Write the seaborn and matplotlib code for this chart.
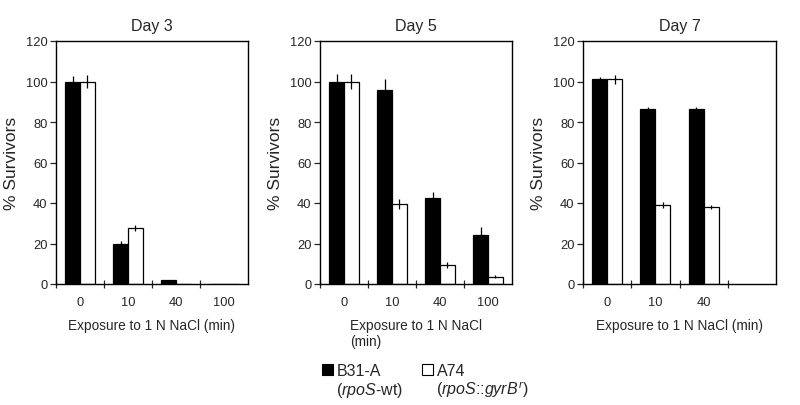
import numpy as np
import pandas as pd
import matplotlib
matplotlib.use("Agg")
import matplotlib.pyplot as plt
from matplotlib.patches import Rectangle
import seaborn as sns

# ---- data ----
categories = ["0", "10", "40", "100"]
strains = ["B31-A", "A74"]
days = ["Day 3", "Day 5", "Day 7"]

day3_b31 = [100, 20, 2, 0]
day3_a74 = [100, 27.5, 0, 0]
day3_b31_err = [2.5, 1.0, 0, 0]
day3_a74_err = [3.0, 1.5, 0, 0]

day5_b31 = [100, 96, 42.5, 24]
day5_a74 = [100, 39.5, 9.3, 3.6]
day5_b31_err = [3.6, 5.4, 3.0, 4.0]
day5_a74_err = [3.5, 2.7, 1.5, 0.8]

day7_b31 = [101, 86.5, 86.5]
day7_a74 = [101, 39, 38]
day7_b31_err = [1.0, 0.8, 0.8]
day7_a74_err = [2.0, 1.3, 1.0]

day7_ticklabels = ["0", "10", "40", ""]

panels = [
    (day3_b31, day3_a74, day3_b31_err, day3_a74_err, categories, "Exposure to 1 N NaCl (min)"),
    (day5_b31, day5_a74, day5_b31_err, day5_a74_err, categories, "Exposure to 1 N NaCl\n(min)"),
    (day7_b31, day7_a74, day7_b31_err, day7_a74_err, day7_ticklabels, "Exposure to 1 N NaCl (min)"),
]

sns.set_style("ticks")
plt.rcParams["font.family"] = ["Liberation Sans", "DejaVu Sans"]
plt.rcParams["mathtext.fontset"] = "custom"
plt.rcParams["mathtext.rm"] = "Liberation Sans"
plt.rcParams["mathtext.it"] = "Liberation Sans:italic"

fig = plt.figure(figsize=(8, 4.06), dpi=100)
W, H = 800, 406
axes_px = [(56, 248), (320, 512), (583, 776)]
top_px, bot_px = 42, 285

for (b, a, be, ae, ticklabels, xlabel), (x0, x1), title in zip(panels, axes_px, days):
    ax = fig.add_axes([x0 / W, 1 - bot_px / H, (x1 - x0) / W, (bot_px - top_px) / H])
    n = len(b)
    df = pd.DataFrame({
        "exposure": categories[:n] * 2,
        "strain": [strains[0]] * n + [strains[1]] * n,
        "survivors": list(b) + list(a),
    })
    errs = {strains[0]: be, strains[1]: ae}
    sns.barplot(data=df, x="exposure", y="survivors", hue="strain",
                order=categories, hue_order=strains,
                palette={"B31-A": "black", "A74": "white"},
                edgecolor="black", linewidth=0.9, width=0.62,
                errorbar=None, legend=False, ax=ax)
    for cont, s in zip(ax.containers, strains):
        for bar in cont:
            h = bar.get_height()
            if np.isnan(h):
                continue
            xc = bar.get_x() + bar.get_width() / 2
            idx = int(round(xc))
            e = errs[s][idx]
            if e > 0:
                ax.errorbar(xc, h, yerr=e, fmt="none", ecolor="black",
                            elinewidth=0.9, capsize=0, zorder=5)
    ax.set_xlim(-0.5, 3.5)
    ax.set_ylim(0, 120)
    ax.set_yticks(range(0, 121, 20))
    ax.set_xticks(range(4))
    ax.set_xticklabels(ticklabels)
    ax.set_xticks([-0.5, 0.5, 1.5, 2.5], minor=True)
    ax.tick_params(axis="x", which="major", length=0, labelsize=9.3, pad=9)
    ax.tick_params(axis="x", which="minor", length=6, width=0.9, direction="inout")
    ax.tick_params(axis="y", length=4, width=0.9, direction="out", labelsize=9.3, pad=2)
    for sp in ax.spines.values():
        sp.set_visible(True)
        sp.set_linewidth(1.0)
        sp.set_color("black")
    ax.set_title(title, fontsize=11.5, pad=8)
    ax.set_ylabel("% Survivors", fontsize=12.5, labelpad=5)
    ax.set_xlabel(xlabel, fontsize=9.8, labelpad=7, multialignment="left")

# ---- legend ----
fig.patches.append(Rectangle((322 / W, 1 - 376 / H), 11 / W, 11 / H, transform=fig.transFigure,
                             facecolor="black", edgecolor="black", linewidth=0.8))
fig.patches.append(Rectangle((422 / W, 1 - 376 / H), 11 / W, 11 / H, transform=fig.transFigure,
                             facecolor="white", edgecolor="black", linewidth=0.8))
fig.text(337 / W, 1 - 376 / H, "B31-A", fontsize=11.5, va="baseline")
fig.text(336 / W, 1 - 395 / H, r"($\mathit{rpoS}$-wt)", fontsize=11.5, va="baseline")
fig.text(437 / W, 1 - 376 / H, "A74", fontsize=11.5, va="baseline")
fig.text(436 / W, 1 - 395 / H, r"($\mathit{rpoS}$::$\mathit{gyrB}^{r}$)", fontsize=11.5, va="baseline")

fig.savefig("out.png", dpi=100)
